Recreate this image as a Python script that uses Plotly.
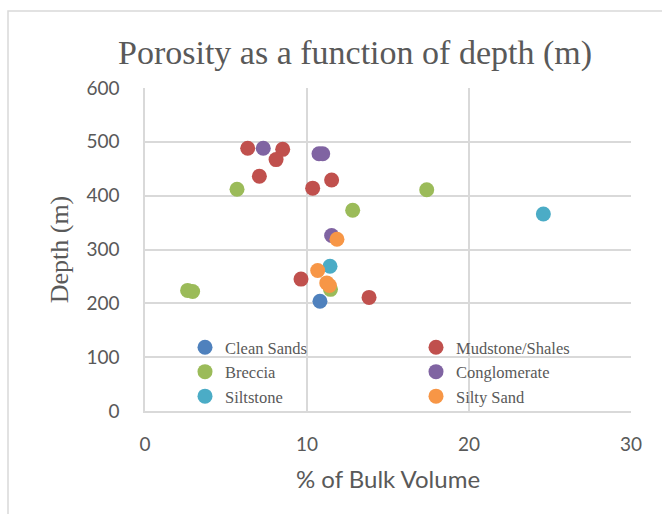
import plotly.graph_objects as go

# Porosity (% of bulk volume) against depth (m) for each lithology
clean_sands_x = [10.8]
clean_sands_y = [204]

mudstone_x = [6.34, 8.5, 8.09, 7.06, 10.35, 11.52, 9.63, 13.83]
mudstone_y = [488, 486, 467, 436, 414, 429, 245, 211]

breccia_x = [5.68, 12.82, 17.39, 11.45, 2.63, 2.94]
breccia_y = [412, 373, 411, 226, 224, 222]

conglomerate_x = [7.3, 10.74, 10.97, 11.52]
conglomerate_y = [488, 478, 478, 326]

siltstone_x = [11.42, 24.59]
siltstone_y = [269, 366]

silty_sand_x = [11.85, 10.66, 11.22, 11.38]
silty_sand_y = [319, 261, 238, 233]

# (name, x, y, colour, legend column)
series = [
    ("Clean Sands", clean_sands_x, clean_sands_y, "#4F81BD", "legend"),
    ("Mudstone/Shales", mudstone_x, mudstone_y, "#C0504D", "legend2"),
    ("Breccia", breccia_x, breccia_y, "#9BBB59", "legend"),
    ("Conglomerate", conglomerate_x, conglomerate_y, "#8064A2", "legend2"),
    ("Siltstone", siltstone_x, siltstone_y, "#4BACC6", "legend"),
    ("Silty Sand", silty_sand_x, silty_sand_y, "#F79646", "legend2"),
]

x_ticks = [0, 10, 20, 30]
y_ticks = [0, 100, 200, 300, 400, 500, 600]

serif = "Liberation Serif, Times New Roman, serif"
sans = "Lato, Open Sans, sans-serif"
grey_text = "#595959"
grid = "#D9D9D9"

fig = go.Figure()
for name, xs, ys, color, leg in series:
    fig.add_trace(go.Scatter(
        x=xs, y=ys, mode="markers", name=name, legend=leg,
        marker=dict(size=15, color=color, line=dict(width=0)),
    ))

W, H = 662, 514
ml, mr, mt, mb = 145, 31, 88, 103
pw, ph = W - ml - mr, H - mt - mb

legend_font = dict(family=serif, size=16.5, color=grey_text)
legend_top = (H - mb - 330) / ph

fig.update_layout(
    width=W, height=H,
    margin=dict(l=ml, r=mr, t=mt, b=mb),
    paper_bgcolor="white", plot_bgcolor="white",
    title=dict(
        text="Porosity as a function of depth (m)",
        font=dict(family=serif, size=34, color=grey_text),
        x=(355 - ml) / pw, xref="paper", xanchor="center",
        y=1 - 52 / H, yanchor="middle",
    ),
    xaxis=dict(
        range=[0, 30], tickvals=x_ticks, ticktext=[str(v) for v in x_ticks],
        showgrid=True, gridcolor=grid, gridwidth=1.5,
        showline=True, linecolor=grid, linewidth=1.5,
        zeroline=False, ticks="", ticklabelstandoff=15,
        tickfont=dict(family=sans, size=19, color=grey_text),
        title=dict(text="% of Bulk Volume", standoff=18,
                   font=dict(family=sans, size=24, color=grey_text)),
    ),
    yaxis=dict(
        range=[0, 600], tickvals=y_ticks, ticktext=[str(v) for v in y_ticks],
        showgrid=True, gridcolor=grid, gridwidth=1.5,
        showline=True, linecolor=grid, linewidth=1.5,
        zeroline=False, ticks="", ticklabelstandoff=20,
        tickfont=dict(family=sans, size=19, color=grey_text),
        title=dict(text="Depth (m)", standoff=10,
                   font=dict(family=serif, size=26, color=grey_text)),
    ),
    legend=dict(
        x=(185 - ml) / pw, xanchor="left",
        y=legend_top, yanchor="top",
        bgcolor="rgba(0,0,0,0)", font=legend_font,
        tracegroupgap=0,
    ),
    legend2=dict(
        x=(416 - ml) / pw, xanchor="left",
        y=legend_top, yanchor="top",
        bgcolor="rgba(0,0,0,0)", font=legend_font,
        tracegroupgap=0,
    ),
    showlegend=True,
)

# Light frame around the whole chart
fig.add_shape(
    type="rect", xref="paper", yref="paper",
    x0=(8 - ml) / pw, x1=(W + 10 - ml) / pw,
    y0=-(mb + 10) / ph, y1=(H - mb - 11) / ph,
    line=dict(color="#D9D9D9", width=1.5), fillcolor="rgba(0,0,0,0)",
    layer="below",
)

fig.write_html("out.html")
